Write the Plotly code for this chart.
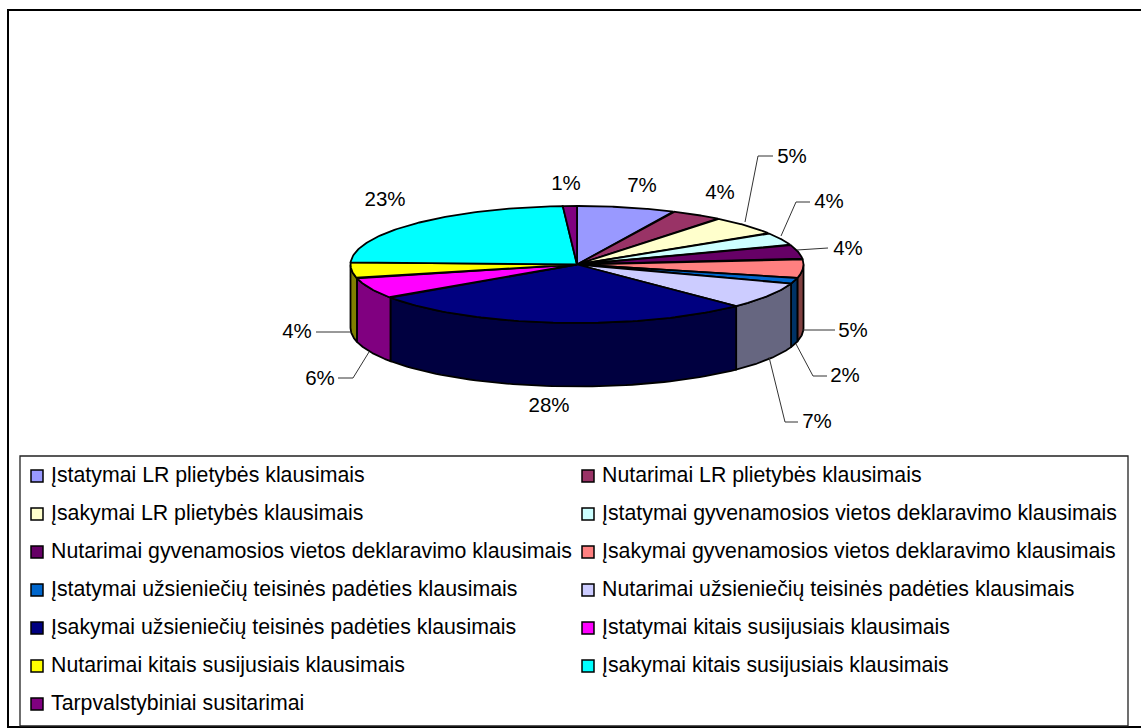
import numpy as np
import plotly.graph_objects as go

categories = [
    "Įstatymai LR plietybės klausimais",
    "Nutarimai LR plietybės klausimais",
    "Įsakymai LR plietybės klausimais",
    "Įstatymai gyvenamosios vietos deklaravimo klausimais",
    "Nutarimai gyvenamosios vietos deklaravimo klausimais",
    "Įsakymai gyvenamosios vietos deklaravimo klausimais",
    "Įstatymai užsieniečių teisinės padėties klausimais",
    "Nutarimai užsieniečių teisinės padėties klausimais",
    "Įsakymai užsieniečių teisinės padėties klausimais",
    "Įstatymai kitais susijusiais klausimais",
    "Nutarimai kitais susijusiais klausimais",
    "Įsakymai kitais susijusiais klausimais",
    "Tarpvalstybiniai susitarimai",
]
# shares read from the slice boundaries; they round to the printed percentages
values = [7.0, 3.7, 5.3, 3.5, 3.9, 5.3, 1.6, 7.3, 27.8, 5.8, 4.4, 23.4, 1.0]
colors = ["#9999FF", "#993366", "#FFFFCC", "#CCFFFF", "#660066", "#FF8080", "#0066CC",
          "#CCCCFF", "#000080", "#FF00FF", "#FFFF00", "#00FFFF", "#800080"]
side_colors = ["#4D4D80", "#4D1A33", "#808066", "#668080", "#330033", "#804040", "#003366",
               "#666680", "#000040", "#800080", "#808000", "#008080", "#400040"]

CX, CY, RX, RY, DEPTH = 577, 264.5, 226.5, 58.5, 63.5

# label placement: text anchor x, y, and optional leader line (x list, y list)
label_pos = [
    (642, 187, None),
    (720, 194, None),
    (792, 158, ([745, 758, 773], [222, 156, 156])),
    (829, 203, ([781, 796, 810], [236, 202, 202])),
    (848, 250, ([797, 828], [250, 248])),
    (853, 332, ([802, 835], [330, 330])),
    (845, 377, ([796, 813, 827], [344, 376, 376])),
    (817, 423, ([769, 785, 798], [357, 422, 422])),
    (549, 407, None),
    (320, 380, ([369, 353, 338], [352, 378, 378])),
    (297, 333, ([350, 316], [332, 332])),
    (385, 201, None),
    (566, 185, None),
]

fig = go.Figure()


def top_xy(t):
    return CX + RX * np.sin(t), CY - RY * np.cos(t)


edges = np.cumsum([0] + values) / sum(values) * 2 * np.pi
LINE = dict(color="black", width=1.8)

# visible outer wall, only the front half of the ellipse
for i in range(len(values)):
    a, b = max(edges[i], np.pi / 2), min(edges[i + 1], 3 * np.pi / 2)
    if b <= a:
        continue
    t = np.linspace(a, b, 60)
    x, y = top_xy(t)
    fig.add_trace(go.Scatter(
        x=np.r_[x, x[::-1], x[0]], y=np.r_[y, y[::-1] + DEPTH, y[0]],
        mode="lines", fill="toself", fillcolor=side_colors[i], line=LINE,
        hoverinfo="skip", showlegend=False))

# top face
for i in range(len(values)):
    t = np.linspace(edges[i], edges[i + 1], 80)
    x, y = top_xy(t)
    fig.add_trace(go.Scatter(
        x=np.r_[CX, x, CX], y=np.r_[CY, y, CY],
        mode="lines", fill="toself", fillcolor=colors[i], line=LINE,
        name=categories[i], hovertemplate="%{fullData.name}<extra></extra>", showlegend=False))

# leader lines
for (_, _, leader) in label_pos:
    if leader:
        fig.add_trace(go.Scatter(x=leader[0], y=leader[1], mode="lines",
                                 line=dict(color="#333333", width=1),
                                 hoverinfo="skip", showlegend=False))

# value labels
fig.add_trace(go.Scatter(
    x=[p[0] for p in label_pos], y=[p[1] for p in label_pos],
    text=[f"{round(v)}%" for v in values], mode="text", textposition="middle center",
    textfont=dict(family="Liberation Sans", size=20.5, color="black"),
    hoverinfo="skip", showlegend=False))

# legend
col_x = [37, 588]
rows = [476, 514, 552, 590, 628, 666, 704]
leg_x = [col_x[i % 2] for i in range(len(categories))]
leg_y = [rows[i // 2] for i in range(len(categories))]
fig.add_trace(go.Scatter(
    x=leg_x, y=leg_y, mode="markers",
    marker=dict(symbol="square", size=12, color=colors, line=dict(color="black", width=1.5)),
    hoverinfo="skip", showlegend=False))
fig.add_trace(go.Scatter(
    x=[v + 14 for v in leg_x], y=[v + 1 for v in leg_y], text=categories, mode="text",
    textposition="middle right",
    textfont=dict(family="Liberation Sans", size=21.3, color="black"),
    hoverinfo="skip", showlegend=False))

fig.update_layout(
    width=1141, height=728, margin=dict(l=0, r=0, t=0, b=0),
    paper_bgcolor="white", plot_bgcolor="white", hovermode="closest",
    xaxis=dict(range=[0, 1141], visible=False, fixedrange=True),
    yaxis=dict(range=[728, 0], visible=False, fixedrange=True),
    shapes=[
        dict(type="rect", x0=8, y0=10, x1=1150, y1=727, line=dict(color="black", width=2), layer="below"),
        dict(type="rect", x0=20, y0=456, x1=1128, y1=726, line=dict(color="#222222", width=1.3), layer="below"),
    ],
)

fig.write_html("out.html", config={"displayModeBar": False},
               post_script="document.body.style.margin='0';document.documentElement.style.overflow='hidden';")
